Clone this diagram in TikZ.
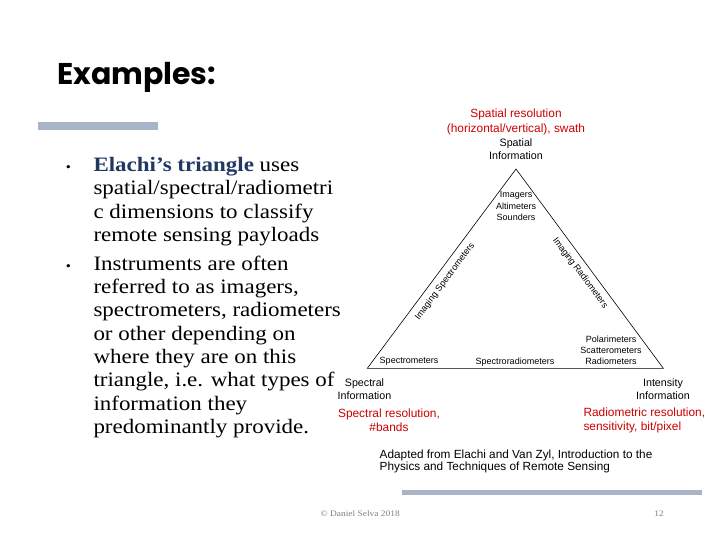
\documentclass[tikz,border=0pt]{standalone}
\usepackage{fontspec}
\setmainfont{Liberation Serif}
\newfontfamily\arialfont{Liberation Sans}
\newfontfamily\bodyfont[FakeStretch=1.12]{Liberation Serif}
\newfontfamily\titlefont{Poppins}[UprightFont=* Bold]
\definecolor{barblue}{HTML}{A9B4C8}
\definecolor{navy}{HTML}{1F3864}
\definecolor{notered}{HTML}{CC0000}
\definecolor{footgray}{HTML}{7F7F7F}
\tikzset{
  bodyline/.style={anchor=base west, inner sep=0pt, font=\bodyfont\fontsize{20.5}{23}\selectfont},
  dot/.style={anchor=base, inner sep=0pt, font=\bodyfont\fontsize{13}{14}\selectfont},
  axislabel/.style={align=center, inner sep=0pt, font=\arialfont\fontsize{10.7}{13}\selectfont},
  rednote/.style={align=center, inner sep=0pt, text=notered, font=\arialfont\fontsize{11.9}{14.3}\selectfont},
  kind/.style={align=center, inner sep=0pt, font=\arialfont\fontsize{9}{11.2}\selectfont},
  edgekind/.style={inner sep=0pt, font=\arialfont\fontsize{9}{11.2}\selectfont},
  footer/.style={inner sep=0pt, text=footgray, font=\bodyfont\fontsize{8.4}{9}\selectfont},
  bar/.style={fill=barblue, draw=none},
}
\begin{document}
\begin{tikzpicture}[x=1pt,y=-1pt]
\useasboundingbox (0,0) rectangle (720,540);
\fill[white] (0,0) rectangle (720,540);

% title and separator bars
\node[anchor=base west, inner sep=0pt, font=\titlefont\fontsize{30}{36}\selectfont] (title) at (57,85) {Examples:};
\fill[bar] (38,122) rectangle (158,130);
\fill[bar] (402,490) rectangle (702,494.5);

% bullet list
\node[dot] (d1) at (68.3,171.7) {\textbullet};
\node[bodyline] (l1) at (93.3,171.7) {\textcolor{navy}{\textbf{Elachi’s triangle}} uses};
\node[bodyline] (l2) at (93.3,195.0) {spatial/spectral/radiometri};
\node[bodyline] (l3) at (93.3,218.3) {c dimensions to classify};
\node[bodyline] (l4) at (93.3,241.7) {remote sensing payloads};
\node[dot] (d2) at (68.3,270.0) {\textbullet};
\node[bodyline] (m1) at (93.3,270.0) {Instruments are often};
\node[bodyline] (m2) at (93.3,293.3) {referred to as imagers,};
\node[bodyline] (m3) at (93.3,316.7) {spectrometers, radiometers};
\node[bodyline] (m4) at (93.3,340.0) {or other depending on};
\node[bodyline] (m5) at (93.3,363.3) {where they are on this};
\node[bodyline] (m6) at (93.3,386.7) {triangle, i.e. what types of};
\node[bodyline] (m7) at (93.3,410.0) {information they};
\node[bodyline] (m8) at (93.3,433.3) {predominantly provide.};

% Elachi's triangle
\coordinate (top) at (516,169);
\coordinate (left) at (367.3,368.3);
\coordinate (right) at (663.3,368.3);
\draw[line width=0.6pt, line join=miter] (top) -- (left) -- (right) -- cycle;

\node[rednote] (spatialres) at (516,122) {Spatial resolution\\(horizontal/vertical), swath};
\node[axislabel] (spatial) at (516,149.6) {Spatial\\Information};
\node[axislabel] (spectral) at (364.5,389.2) {Spectral\\Information};
\node[axislabel] (intensity) at (663,389.2) {Intensity\\Information};
\node[rednote] (spectralres) at (389,420.5) {Spectral resolution,\\\#bands};
\node[rednote, align=left, anchor=west] (radres) at (583.3,420.5) {Radiometric resolution,\\sensitivity, bit/pixel};

\node[kind] (imagers) at (516,206) {Imagers\\Altimeters\\Sounders};
\node[kind] (polar) at (611,350.5) {Polarimeters\\Scatterometers\\Radiometers};
\node[edgekind] (spectro) at (409,361.7) {Spectrometers};
\node[edgekind] (specrad) at (515,361.7) {Spectroradiometers};
\node[edgekind, rotate=53.2] (imgspec) at (445,281.7) {Imaging Spectrometers};
\node[edgekind, rotate=-53.2] (imgrad) at (580,273) {Imaging Radiometers};

% source note and footer
\node[anchor=west, align=left, inner sep=0pt, font=\arialfont\fontsize{11.8}{12}\selectfont] (source) at (379.5,461.7)
  {Adapted from Elachi and Van Zyl, Introduction to the\\Physics and Techniques of Remote Sensing};
\node[footer, anchor=west] (copy) at (320.5,514) {© Daniel Selva 2018};
\node[footer] (page) at (659,514) {12};
\end{tikzpicture}
\end{document}
